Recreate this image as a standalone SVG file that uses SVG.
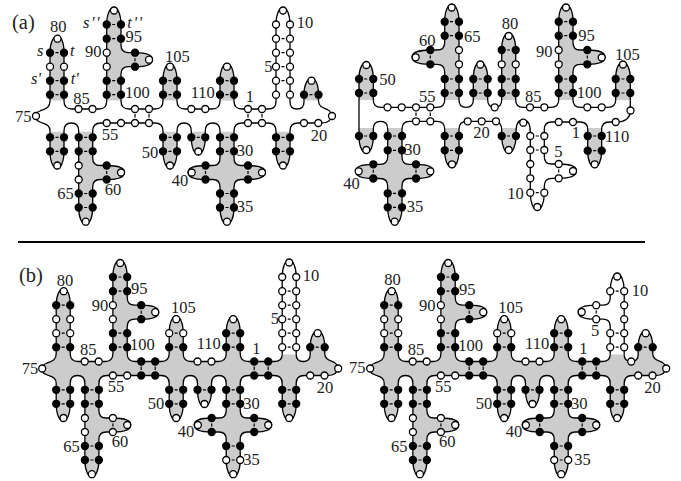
<svg xmlns="http://www.w3.org/2000/svg" width="681" height="481" viewBox="0 0 681 481">
<style>
text{font-family:"Liberation Serif","Times New Roman",serif;font-size:16.5px;fill:#222}
.i{font-style:italic}
.h{font-size:20.5px}
circle{fill:#fff;stroke:#000;stroke-width:1.3;r:3.5px}
circle.k{fill:#000}
.bb{fill:none;stroke:#000;stroke-width:1.3}
.d{fill:none;stroke:#000;stroke-width:1.2}
.f{fill:#ccc;stroke:none}
</style>
<defs>
<clipPath id="cA"><rect x="0" y="0" width="340" height="100.5"/><rect x="0" y="131.7" width="340" height="110"/></clipPath>
<clipPath id="cB"><rect x="345" y="0" width="300" height="100"/><rect x="345" y="128" width="172" height="110"/><rect x="587" y="128" width="16" height="50"/></clipPath>
<path id="main" d="M290,102Q290,109 297,109Q304,109 304,102L304,94.7C304,84 308,78 311.5,78C315,78 318.5,84 318.5,94.7L318.5,101C318.5,107 324,108 328,110C332,112 333,119 327,122C325,123 322,123 318,123L298,123Q290,123 290,131L290,151.3C290,162 286.5,168 283,168C279.5,168 276,162 276,151.3L276,131Q276,123 268,123L242,123Q234,123 234,131L234,158Q234,165.5 241,165.5L248,165.5C258,165.5 265.5,167 265.5,172.5C265.5,178 258,179.5 248,179.5L241,179.5Q234,179.5 234,187L234,207.5C234,218 230.5,224.5 227,224.5C223.5,224.5 220,218 220,207.5L220,187Q220,179.5 213,179.5L205.5,179.5C196,179.5 188,178 188,172.5C188,167 196,165.5 205.5,165.5L213,165.5Q220,165.5 220,158L220,131Q220,123 212.7,123Q205.3,123 205.3,131L205.3,137.3C205.3,148 202,154.5 198.3,154.5C194.6,154.5 191.3,148 191.3,137.3L191.3,131Q191.3,123 184,123Q177,123 177,131L177,151.3C177,162 173.5,168.5 170,168.5C166.5,168.5 163,162 163,151.3L163,131Q163,123 155,123L100.7,123Q92.7,123 92.7,131L92.7,158Q92.7,165.5 100,165.5L106.7,165.5C116,165.5 124.5,167 124.5,172.5C124.5,178 116,179.5 106.7,179.5L100,179.5Q92.7,179.5 92.7,187L92.7,207.5C92.7,218 89.2,224.5 85.7,224.5C82.2,224.5 78.7,218 78.7,207.5L78.7,131Q78.7,123 71.3,123Q64,123 64,131L64,151.3C64,162 60.5,168.5 57,168.5C53.5,168.5 50,162 50,151.3L50,131C50,124 44,124 40,122C34,119 34,113 40,111C44,109 50,109 50,101L50,52.7C50,42 54,36 57,36C61,36 64,42 64,52.7L64,101Q64,109 72,109L99,109Q106.7,109 106.7,101L106.7,24.5C106.7,14 110,7.5 114,7.5C117.5,7.5 121,14 121,24.5L121,45Q121,52.7 128.5,52.7L135,52.7C145,52.7 152.5,54 152.5,59.7C152.5,65 145,66.7 135,66.7L128.5,66.7Q121,66.7 121,74L121,101Q121,109 129,109L155,109Q163,109 163,101L163,80.7C163,70 166.5,63.5 170,63.5C173.5,63.5 177,70 177,80.7L177,101Q177,109 185,109L212,109Q220,109 220,101L220,80.7C220,70 223.5,63.5 227,63.5C230.5,63.5 234,70 234,80.7L234,101Q234,109 242,109L268,109Q276,109 276,102"/>
<path id="hairpin" d="M276,102L276,24.5C276,14 279.5,7.5 283,7.5C286.5,7.5 290,14 290,24.5L290,102"/>
<path id="a2-path" d="M359,136L359,79C359,68 362.5,62.5 366.3,62.5C370,62.5 373.3,68 373.3,79L373.3,100Q373.3,107.3 381,107.3L437,107.3Q444.7,107.3 444.7,100L444.7,72Q444.7,64.3 437,64.3L430.3,64.3C421,64.3 412,63 412,57.3C412,52 421,50 430.3,50L437,50Q444.7,50 444.7,42.5L444.7,21.7C444.7,11 448,4.5 451.7,4.5C455.5,4.5 459,11 459,21.7L459,100Q459,107.3 466,107.3Q473.3,107.3 473.3,100L473.3,79C473.3,68 476.5,62 480.3,62C484,62 487.7,68 487.7,79L487.7,100Q487.7,107.3 494.7,107.3Q501.7,107.3 501.7,100L501.7,50C501.7,39 505,33 508.7,33C512.5,33 515.7,39 515.7,50L515.7,100Q515.7,107.3 523,107.3L551,107.3Q558.7,107.3 558.7,100L558.7,21.7C558.7,11 562,4.5 566,4.5C569.5,4.5 573,11 573,21.7L573,42.5Q573,50 580,50L587.3,50C597,50 605,52 605,57.3C605,63 597,64.3 587.3,64.3L580,64.3Q573,64.3 573,72L573,100Q573,107.3 580.5,107.3L608,107.3Q615.7,107.3 615.7,100L615.7,79C615.7,68 619,62 623,62C626.5,62 630.3,68 630.3,79L630.3,110.5C630.3,118 625,122 615.7,122L609,122Q601.7,122 601.7,129.5L601.7,150.7C601.7,161 598,167.5 594.7,167.5C591,167.5 587.7,161 587.7,150.7L587.7,129.5Q587.7,122 580,122L551.5,122Q544.3,122 544.3,129.5L544.3,156.5Q544.3,164 551.5,164L558.7,164C568,164 576.5,165.5 576.5,171C576.5,177 568,178.3 558.7,178.3L552,178.3Q544.3,178.3 544.3,186L544.3,192.7C544.3,203 541,210 537.3,210C533.5,210 530.3,203 530.3,192.7L530.3,132Q530.3,120 523,120Q516,120 516,132L516,136C516,146 512.5,153 508.7,153C505,153 501.7,146 501.7,136L501.7,130Q501.7,121.3 494,121.3L467,121.3Q459,121.3 459,129L459,150.3C459,161 455.5,167.5 452,167.5C448,167.5 444.7,161 444.7,150.3L444.7,129Q444.7,121.3 437,121.3L409.5,121.3Q402,121.3 402,129L402,157Q402,164.3 409,164.3L416,164.3C426,164.3 433.5,165.5 433.5,171.3C433.5,177 426,178.5 416,178.5L409,178.5Q402,178.5 402,186L402,207.3C402,218 398.5,224.5 394.7,224.5C391,224.5 387.7,218 387.7,207.3L387.7,186Q387.7,178.5 380,178.5L373.3,178.5C364,178.5 355.5,177 355.5,171.3C355.5,165.5 364,164.3 373.3,164.3L380,164.3Q387.7,164.3 387.7,157L387.7,129Q387.7,121.3 380.5,121.3Q373.3,121.3 373.3,129L373.3,136C373.3,147 370,153 366.3,153C362.5,153 359,147 359,136Z"/>
<path id="dashes" d="M55.5,52.7h3M55.5,80.7h3M55.5,94.7h3M55.5,137.3h3M55.5,151.3h3M84.2,137.3h3M84.2,151.3h3M84.2,193.5h3M84.2,207.5h3M112.2,24.5h3M112.2,38.7h3M112.2,80.7h3M112.2,94.7h3M168.5,80.7h3M168.5,94.7h3M168.5,137.3h3M168.5,151.3h3M196.8,137.3h3M225.5,80.7h3M225.5,94.7h3M225.5,137.3h3M225.5,151.3h3M225.5,193.5h3M225.5,207.5h3M281.5,137.3h3M281.5,151.3h3M309.5,94.7h3M135,58.2v3M106.7,171v3M205.5,171v3M248,171v3M135,114v3.5M149,114v3.5M248,114v3.5M262,114v3.5"/>
<g id="shared-nodes">
<circle cx="36" cy="116"/><circle cx="57.5" cy="38.7"/><circle class="k" cx="50" cy="52.7"/><circle class="k" cx="64" cy="52.7"/><circle cx="50" cy="66.7"/><circle cx="64" cy="66.7"/><circle class="k" cx="50" cy="94.7"/><circle class="k" cx="64" cy="94.7"/>
<circle cx="78.5" cy="109"/><circle cx="92.5" cy="109"/>
<circle cx="114" cy="10.5"/><circle class="k" cx="106.7" cy="24.5"/><circle class="k" cx="121" cy="24.5"/><circle class="k" cx="106.7" cy="38.7"/><circle class="k" cx="121" cy="38.7"/><circle cx="106.7" cy="52.7"/><circle cx="106.7" cy="66.7"/><circle class="k" cx="135" cy="52.7"/><circle class="k" cx="135" cy="66.7"/><circle cx="149" cy="59.7"/><circle class="k" cx="106.7" cy="80.7"/><circle class="k" cx="121" cy="80.7"/><circle class="k" cx="106.7" cy="94.7"/><circle class="k" cx="121" cy="94.7"/>
<circle cx="106.7" cy="123"/><circle cx="121" cy="123"/>
<circle cx="170" cy="66.7"/><circle class="k" cx="163" cy="94.7"/><circle class="k" cx="177" cy="94.7"/>
<circle cx="191.3" cy="109"/><circle cx="205.3" cy="109"/>
<circle cx="227" cy="66.7"/><circle class="k" cx="220" cy="80.7"/><circle class="k" cx="234" cy="80.7"/><circle class="k" cx="220" cy="94.7"/><circle class="k" cx="234" cy="94.7"/>
<circle cx="311.5" cy="80.7"/><circle class="k" cx="304" cy="94.7"/><circle class="k" cx="318.5" cy="94.7"/><circle cx="332" cy="116"/><circle cx="304" cy="123"/><circle cx="318.3" cy="123"/>
<circle class="k" cx="50" cy="137.3"/><circle class="k" cx="64" cy="137.3"/><circle class="k" cx="50" cy="151.3"/><circle class="k" cx="64" cy="151.3"/><circle cx="57.3" cy="165.5"/>
<circle class="k" cx="78.7" cy="137.3"/><circle class="k" cx="92.7" cy="137.3"/><circle class="k" cx="78.7" cy="151.3"/><circle class="k" cx="92.7" cy="151.3"/><circle cx="78.7" cy="165.5"/><circle cx="78.7" cy="179.5"/><circle cx="121" cy="172.5"/><circle class="k" cx="78.7" cy="193.5"/><circle class="k" cx="92.7" cy="193.5"/><circle class="k" cx="78.7" cy="207.5"/><circle class="k" cx="92.7" cy="207.5"/><circle cx="85.7" cy="221.7"/>
<circle class="k" cx="163" cy="137.3"/><circle class="k" cx="177" cy="137.3"/><circle class="k" cx="163" cy="151.3"/><circle class="k" cx="177" cy="151.3"/><circle cx="170" cy="165.5"/>
<circle class="k" cx="191.3" cy="137.3"/><circle class="k" cx="205.3" cy="137.3"/><circle cx="198.3" cy="151.5"/>
<circle class="k" cx="220" cy="137.3"/><circle class="k" cx="234" cy="137.3"/><circle class="k" cx="220" cy="151.3"/><circle class="k" cx="234" cy="151.3"/><circle class="k" cx="205.5" cy="165.5"/><circle class="k" cx="205.5" cy="179.5"/><circle cx="191.7" cy="172.5"/><circle class="k" cx="248" cy="165.5"/><circle class="k" cx="248" cy="179.5"/><circle cx="262" cy="172.5"/><circle class="k" cx="220" cy="193.5"/><circle class="k" cx="234" cy="193.5"/><circle cx="227" cy="221.7"/>
<circle class="k" cx="276" cy="137.3"/><circle class="k" cx="290" cy="137.3"/><circle class="k" cx="276" cy="151.3"/><circle class="k" cx="290" cy="151.3"/><circle cx="283" cy="165.5"/>
</g>
<g id="b-extra-nodes">
<circle cx="50" cy="80.7"/><circle cx="64" cy="80.7"/><circle class="k" cx="135" cy="109"/><circle class="k" cx="149" cy="109"/><circle class="k" cx="135" cy="123"/><circle class="k" cx="149" cy="123"/><circle cx="163" cy="80.7"/><circle cx="177" cy="80.7"/><circle class="k" cx="248" cy="109"/><circle class="k" cx="262" cy="109"/><circle class="k" cx="248" cy="123"/><circle class="k" cx="262" cy="123"/><circle cx="106.7" cy="165.5"/><circle cx="106.7" cy="179.5"/><circle cx="220" cy="207.5"/><circle cx="234" cy="207.5"/>
</g>
</defs>

<g id="panel-a-left">
<use href="#main" class="f" clip-path="url(#cA)"/>
<g id="a1-connectors"><use href="#main" class="bb"/><use href="#hairpin" class="bb"/><use href="#dashes" class="d"/><path class="d" d="M281.5,38.7h3M281.5,52.7h3M281.5,66.7h3M281.5,80.7h3"/></g>
<g id="a1-nodes"><use href="#shared-nodes"/>
<circle class="k" cx="50" cy="80.7"/><circle class="k" cx="64" cy="80.7"/><circle cx="135" cy="109"/><circle cx="149" cy="109"/><circle cx="135" cy="123"/><circle cx="149" cy="123"/><circle class="k" cx="163" cy="80.7"/><circle class="k" cx="177" cy="80.7"/><circle cx="248" cy="109"/><circle cx="262" cy="109"/><circle cx="248" cy="123"/><circle cx="262" cy="123"/><circle class="k" cx="106.7" cy="165.5"/><circle class="k" cx="106.7" cy="179.5"/><circle class="k" cx="220" cy="207.5"/><circle class="k" cx="234" cy="207.5"/>
<circle cx="283" cy="10.5"/><circle cx="276" cy="24.5"/><circle cx="290" cy="24.5"/><circle cx="276" cy="38.7"/><circle cx="290" cy="38.7"/><circle cx="276" cy="52.7"/><circle cx="290" cy="52.7"/><circle cx="276" cy="66.7"/><circle cx="290" cy="66.7"/><circle cx="276" cy="80.7"/><circle cx="290" cy="80.7"/><circle cx="276" cy="94.7"/><circle cx="290" cy="94.7"/></g>
<g id="a1-labels">
<text class="h" x="12" y="28.5">(a)</text>
<text x="50" y="32">80</text><text class="i" x="37" y="56">s</text><text class="i" x="70" y="56">t</text><text class="i" x="31" y="84">s'</text><text class="i" x="70.7" y="84">t'</text><text class="i" x="83" y="28" letter-spacing="1.5">s''</text><text class="i" x="127.3" y="28" letter-spacing="1.5">t''</text>
<text x="125.5" y="42.3">95</text><text x="85" y="57.3">90</text><text x="73.3" y="104">85</text><text x="125" y="98.3">100</text><text x="165" y="61.7">105</text><text x="190.7" y="97.7">110</text><text x="245.7" y="101.7">1</text><text x="264.3" y="72.3">5</text><text x="296.7" y="28.3">10</text><text x="15" y="121.7">75</text><text x="101.7" y="140">55</text><text x="104.7" y="195">60</text><text x="57.3" y="199.3">65</text><text x="141.7" y="157.7">50</text><text x="236.7" y="156">30</text><text x="171.7" y="186">40</text><text x="236.7" y="212.3">35</text><text x="310.7" y="141">20</text>
</g>
</g>

<g id="panel-a-right">
<use href="#a2-path" class="f" clip-path="url(#cB)"/>
<g id="a2-connectors"><use href="#a2-path" class="bb"/>
<path class="d" d="M364.2,79h3M364.2,93h3M364.2,136h3M393,136h3M393,150.3h3M393,193.3h3M393,207.3h3M450,21.7h3M450,35.7h3M450,79h3M450,93h3M450,136h3M450,150.3h3M478.8,79h3M478.8,93h3M507,50h3M507,79h3M507,93h3M507,136h3M564.3,21.7h3M564.3,35.7h3M564.3,79h3M564.3,93h3M621.5,79h3M621.5,93h3M593.2,136h3M593.2,150.7h3M535.8,136h3M535.8,150h3M535.8,192.7h3M416,112.5v3.5M430.3,112.5v3.5M430.3,55.5v3M373.3,169.8v3M416,169.8v3M587.3,55.5v3M558.7,169.5v3"/></g>
<g id="a2-nodes">
<circle cx="366.3" cy="65"/><circle class="k" cx="359" cy="79"/><circle class="k" cx="373.3" cy="79"/><circle class="k" cx="359" cy="93"/><circle class="k" cx="373.3" cy="93"/>
<circle cx="387.5" cy="107.3"/><circle cx="401.7" cy="107.3"/><circle cx="416" cy="107.3"/><circle cx="430.3" cy="107.3"/>
<circle cx="451.7" cy="7.5"/><circle class="k" cx="444.7" cy="21.7"/><circle class="k" cx="459" cy="21.7"/><circle class="k" cx="444.7" cy="35.7"/><circle class="k" cx="459" cy="35.7"/><circle class="k" cx="430.3" cy="50"/><circle class="k" cx="430.3" cy="64.3"/><circle cx="415.7" cy="57.3"/><circle cx="459" cy="50"/><circle cx="459" cy="64.3"/><circle class="k" cx="444.7" cy="79"/><circle class="k" cx="459" cy="79"/><circle class="k" cx="444.7" cy="93"/><circle class="k" cx="459" cy="93"/>
<circle cx="480.3" cy="64.5"/><circle class="k" cx="473.3" cy="79"/><circle class="k" cx="487.7" cy="79"/><circle class="k" cx="473.3" cy="93"/><circle class="k" cx="487.7" cy="93"/><circle cx="494.7" cy="107.3"/>
<circle cx="508.7" cy="36"/><circle class="k" cx="501.7" cy="50"/><circle class="k" cx="515.7" cy="50"/><circle cx="501.7" cy="64.3"/><circle cx="515.7" cy="64.3"/><circle class="k" cx="501.7" cy="79"/><circle class="k" cx="515.7" cy="79"/><circle class="k" cx="501.7" cy="93"/><circle class="k" cx="515.7" cy="93"/>
<circle cx="530" cy="107.3"/><circle cx="544.3" cy="107.3"/>
<circle cx="566" cy="7.5"/><circle class="k" cx="558.7" cy="21.7"/><circle class="k" cx="573" cy="21.7"/><circle class="k" cx="558.7" cy="35.7"/><circle class="k" cx="573" cy="35.7"/><circle cx="558.7" cy="50"/><circle cx="558.7" cy="64.3"/><circle class="k" cx="587.3" cy="50"/><circle class="k" cx="587.3" cy="64.3"/><circle cx="601.7" cy="57.5"/><circle class="k" cx="558.7" cy="79"/><circle class="k" cx="573" cy="79"/><circle class="k" cx="558.7" cy="93"/><circle class="k" cx="573" cy="93"/>
<circle cx="587.3" cy="107.3"/><circle cx="601.7" cy="107.3"/>
<circle cx="623" cy="64.5"/><circle class="k" cx="615.7" cy="79"/><circle class="k" cx="630.3" cy="79"/><circle class="k" cx="615.7" cy="93"/><circle class="k" cx="630.3" cy="93"/><circle cx="630.5" cy="110.5"/><circle cx="615.7" cy="122"/>
<circle class="k" cx="587.7" cy="136"/><circle class="k" cx="601.7" cy="136"/><circle class="k" cx="587.7" cy="150.7"/><circle class="k" cx="601.7" cy="150.7"/><circle cx="594.7" cy="164.3"/>
<circle cx="573" cy="122"/><circle cx="558.7" cy="122"/>
<circle cx="530.3" cy="136"/><circle cx="544.3" cy="136"/><circle cx="530.3" cy="150"/><circle cx="544.3" cy="150"/><circle cx="530.3" cy="164"/><circle cx="530.3" cy="178.3"/><circle cx="558.7" cy="164"/><circle cx="558.7" cy="178.3"/><circle cx="573" cy="171"/><circle cx="530.3" cy="192.7"/><circle cx="544.3" cy="192.7"/><circle cx="537.3" cy="207"/>
<circle cx="523.3" cy="122.7"/><circle class="k" cx="501.7" cy="136"/><circle class="k" cx="516" cy="136"/><circle cx="508.7" cy="150"/>
<circle cx="496" cy="121.3"/><circle cx="481.7" cy="121.3"/><circle cx="467.7" cy="121.3"/>
<circle class="k" cx="444.7" cy="136"/><circle class="k" cx="459" cy="136"/><circle class="k" cx="444.7" cy="150.3"/><circle class="k" cx="459" cy="150.3"/><circle cx="452" cy="164.3"/>
<circle cx="430.3" cy="121.3"/><circle cx="416" cy="121.3"/>
<circle class="k" cx="387.7" cy="136"/><circle class="k" cx="402" cy="136"/><circle class="k" cx="387.7" cy="150.3"/><circle class="k" cx="402" cy="150.3"/><circle class="k" cx="373.3" cy="164.3"/><circle class="k" cx="373.3" cy="178.5"/><circle cx="358.7" cy="171.3"/><circle class="k" cx="416" cy="164.3"/><circle class="k" cx="416" cy="178.5"/><circle cx="430.3" cy="171.3"/><circle class="k" cx="387.7" cy="193.3"/><circle class="k" cx="402" cy="193.3"/><circle class="k" cx="387.7" cy="207.3"/><circle class="k" cx="402" cy="207.3"/><circle cx="394.7" cy="221.7"/>
<circle class="k" cx="359" cy="136"/><circle class="k" cx="373.3" cy="136"/><circle cx="366.3" cy="150"/>
</g>
<g id="a2-labels">
<text x="379.3" y="85">50</text><text x="419" y="45.7">60</text><text x="464" y="41.7">65</text><text x="419" y="101.7">55</text><text x="501.7" y="29">80</text><text x="525" y="101.7">85</text><text x="536" y="56.7">90</text><text x="578.3" y="40.7">95</text><text x="576.7" y="98.3">100</text><text x="615" y="60">105</text><text x="605" y="142.3">110</text><text x="571.7" y="138.3">1</text><text x="554.3" y="157.3">5</text><text x="507.3" y="199.3">10</text><text x="473.3" y="137.7">20</text><text x="404.3" y="155">30</text><text x="343.3" y="189.3">40</text><text x="406.7" y="211.7">35</text>
</g>
</g>

<rect id="divider" x="18" y="241" width="627" height="2" fill="#000"/>

<g id="panel-b-left">
<g transform="translate(6.2,252.5)">
<use href="#main" class="f"/>
<g id="b1-connectors"><use href="#main" class="bb"/><use href="#hairpin" class="bb"/><use href="#dashes" class="d"/><path class="d" d="M281.5,38.7h3M281.5,52.7h3M281.5,66.7h3M281.5,80.7h3M281.5,94.7h3"/></g>
<g id="b1-nodes"><use href="#shared-nodes"/><use href="#b-extra-nodes"/>
<circle cx="283" cy="10"/><circle cx="276" cy="24.5"/><circle cx="290" cy="24.5"/><circle cx="276" cy="38.7"/><circle cx="290" cy="38.7"/><circle cx="276" cy="52.7"/><circle cx="290" cy="52.7"/><circle cx="276" cy="66.7"/><circle cx="290" cy="66.7"/><circle cx="276" cy="80.7"/><circle cx="290" cy="80.7"/><circle cx="276" cy="94.7"/><circle cx="290" cy="94.7"/></g>
</g>
<g id="b1-labels">
<text class="h" x="19" y="281.5">(b)</text>
<text x="56.7" y="285.7">80</text><text x="91.7" y="310.7">90</text><text x="131" y="294.3">95</text><text x="80" y="355">85</text><text x="130" y="350">100</text><text x="171" y="313.3">105</text><text x="196.7" y="349.3">110</text><text x="252.3" y="354.3">1</text><text x="270.7" y="324">5</text><text x="302.7" y="280.7">10</text><text x="21.7" y="374">75</text><text x="107.7" y="391.7">55</text><text x="111.7" y="446.7">60</text><text x="63.3" y="451.7">65</text><text x="147.7" y="409">50</text><text x="177.7" y="437.3">40</text><text x="243.3" y="409">30</text><text x="243.3" y="465">35</text><text x="316.7" y="392.7">20</text>
</g>
</g>

<g id="panel-b-right">
<g transform="translate(334.2,252.5)">
<use href="#main" class="f"/>
<g id="b2-connectors"><use href="#main" class="bb"/><path class="bb" d="M276,102L276,74Q276,66.7 269,66.7L262,66.7C252,66.7 244,65 244,59.7C244,54 252,52.7 262,52.7L269,52.7Q276,52.7 276,45L276,38.7C276,28 279.5,21 283,21C286.5,21 290,28 290,38.7L290,102"/><use href="#dashes" class="d"/><path class="d" d="M281.5,38.7h3M281.5,80.7h3M281.5,94.7h3M262,58v3"/></g>
<g id="b2-nodes"><use href="#shared-nodes"/><use href="#b-extra-nodes"/>
<circle cx="283" cy="24"/><circle cx="276" cy="38.7"/><circle cx="290" cy="38.7"/><circle cx="290" cy="52.7"/><circle cx="290" cy="66.7"/><circle cx="262" cy="52.7"/><circle cx="262" cy="66.7"/><circle cx="247.5" cy="59.5"/><circle cx="276" cy="80.7"/><circle cx="290" cy="80.7"/><circle cx="276" cy="94.7"/><circle cx="290" cy="94.7"/><circle cx="297" cy="109"/></g>
</g>
<g id="b2-labels">
<text x="384.3" y="285.3">80</text><text x="419" y="311">90</text><text x="459" y="294.7">95</text><text x="407.7" y="355">85</text><text x="458.3" y="350.7">100</text><text x="498.3" y="313.3">105</text><text x="525" y="349.3">110</text><text x="579.3" y="354.3">1</text><text x="591" y="336">5</text><text x="631.7" y="296">10</text><text x="349" y="373.3">75</text><text x="435" y="391.7">55</text><text x="439" y="446.7">60</text><text x="391" y="451.7">65</text><text x="475.7" y="409.3">50</text><text x="505.7" y="436.7">40</text><text x="571" y="408.7">30</text><text x="574.3" y="465">35</text><text x="644.3" y="392.7">20</text>
</g>
</g>
</svg>
